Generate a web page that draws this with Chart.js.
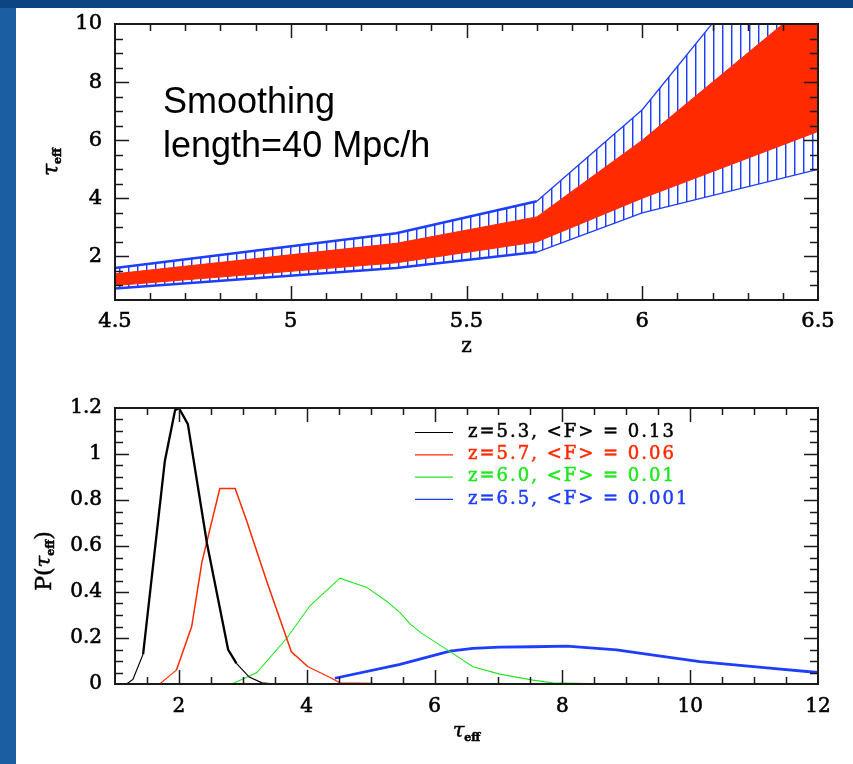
<!DOCTYPE html>
<html>
<head>
<meta charset="utf-8">
<script src="https://cdn.jsdelivr.net/npm/chart.js@4.4.1/dist/chart.umd.min.js"></script>
<style>
  html, body { margin: 0; padding: 0; }
  body { width: 853px; height: 764px; overflow: hidden; position: relative; background: #1b5ea2; }
  #band { position: absolute; left: 0; top: 0; width: 853px; height: 8px; background: #0d4582; }
  #panel { position: absolute; left: 16px; top: 8px; width: 837px; height: 756px; background: #fff; }
  .box { position: absolute; left: 16px; width: 837px; }
  #box-tau { top: 8px; height: 352px; }
  #box-pdf { top: 360px; height: 404px; }
</style>
</head>
<body>
<div id="band"></div>
<div id="panel"></div>
<div class="box" id="box-tau"><canvas id="chart-tau"></canvas></div>
<div class="box" id="box-pdf"><canvas id="chart-pdf"></canvas></div>
<script>
/* Two stacked panels: tau_eff range vs z (top), P(tau_eff) per redshift (bottom).
 * Values. */

// ---------- top panel data ----------
const Z_NODES  = [4.5, 5.3, 5.7, 6.0, 6.5];
const HATCH_LO = [0.9, 1.6, 2.15, 3.5, 5.0];
const HATCH_HI = [1.6, 2.8, 3.9, 7.05, 14.5];
const RED_LO   = [1.0, 1.78, 2.5, 4.0, 6.3];
const RED_HI   = [1.4, 2.45, 3.36, 6.0, 11.0];
const Z_TICKS   = [4.5, 5, 5.5, 6, 6.5];
const TAU_TICKS = [2, 4, 6, 8, 10];

// ---------- bottom panel data ----------
const Z53_TAU = [1.18, 1.28, 1.44, 1.78, 1.94, 2.0, 2.14, 2.44, 2.77, 2.9, 3.1, 3.3, 3.5];
const Z53_P   = [0, 0.02, 0.13, 0.97, 1.19, 1.2, 1.13, 0.61, 0.15, 0.09, 0.03, 0.005, 0];
const Z57_TAU = [1.7, 1.96, 2.2, 2.36, 2.64, 2.88, 3.06, 3.37, 3.76, 4.02, 4.39, 4.52, 5.04];
const Z57_P   = [0, 0.06, 0.25, 0.53, 0.85, 0.85, 0.71, 0.45, 0.14, 0.075, 0.025, 0.005, 0.003];
const Z60_TAU = [2.83, 3.22, 3.69, 4.05, 4.52, 4.94, 5.25, 5.46, 5.62, 5.8, 6.08, 6.6, 7.02, 7.54, 7.85, 8.8];
const Z60_P   = [0, 0.05, 0.2, 0.34, 0.46, 0.42, 0.36, 0.31, 0.26, 0.22, 0.17, 0.075, 0.043, 0.017, 0.005, 0];
const Z65_TAU = [4.44, 5.46, 6.24, 6.6, 7.02, 7.54, 8.07, 8.85, 9.37, 10.15, 11.2, 12];
const Z65_P   = [0.025, 0.085, 0.143, 0.155, 0.16, 0.162, 0.165, 0.148, 0.128, 0.097, 0.07, 0.05];
const LEGEND_LABELS = ["z=5.3, <F> = 0.13", "z=5.7, <F> = 0.06", "z=6.0, <F> = 0.01", "z=6.5, <F> = 0.001"];
const PDF_X_TICKS = [2, 4, 6, 8, 10, 12];
const PDF_Y_TICKS = [0, 0.2, 0.4, 0.6, 0.8, 1, 1.2];

const RED = "#ff2a00";
const BLUE = "#1d3dff";
const GREEN = "#22e622";
const BLACK = "#000";
const SERIF = "'DejaVu Serif', serif";

Chart.defaults.animation = false;
Chart.defaults.color = "#000";

const pts = (xs, ys) => xs.map((x, i) => ({ x, y: ys[i] }));

// vertical-line hatching for the outer band
function makeHatch() {
  const c = document.createElement("canvas");
  c.width = 9; c.height = 8;
  const g = c.getContext("2d");
  g.fillStyle = BLUE;
  g.fillRect(4, 0, 1, 8);
  g.globalAlpha = 0.45;
  g.fillRect(5, 0, 1, 8);
  return g.createPattern(c, "repeat");
}

// inward ticks on all four sides plus the box frame
const frameTicks = {
  id: "frameTicks",
  afterDatasetsDraw(chart, _a, o) {
    const { ctx, chartArea: a } = chart;
    const sx = chart.scales.x, sy = chart.scales.y;
    const isMajor = (v, step) => Math.abs(v / step - Math.round(v / step)) < 1e-6;
    ctx.save();
    ctx.strokeStyle = "#1a1a1a";
    ctx.lineWidth = 1.5;
    ctx.beginPath();
    const nx = Math.round((sx.max - sx.min) / o.xMinor);
    for (let i = 1; i < nx; i++) {
      const v = sx.min + i * o.xMinor;
      const px = Math.round(sx.getPixelForValue(v)) + 0.5;
      const len = isMajor(v, o.xMajor) ? 14 : 7;
      ctx.moveTo(px, a.bottom); ctx.lineTo(px, a.bottom - len);
      ctx.moveTo(px, a.top); ctx.lineTo(px, a.top + len);
    }
    const ny = Math.round((sy.max - sy.min) / o.yMinor);
    for (let i = 1; i < ny; i++) {
      const v = sy.min + i * o.yMinor;
      const py = Math.round(sy.getPixelForValue(v)) + 0.5;
      const len = isMajor(v, o.yMajor) ? 14 : 8;
      ctx.moveTo(a.left, py); ctx.lineTo(a.left + len, py);
      ctx.moveTo(a.right, py); ctx.lineTo(a.right - len, py);
    }
    ctx.stroke();
    ctx.lineWidth = 2;
    ctx.strokeRect(a.left, a.top, a.right - a.left, a.bottom - a.top);
    ctx.restore();
  },
};

// axis titles with subscripts, notes, inset legend
function drawParts(ctx, parts, cx, cy, rot) {
  let w = 0;
  parts.forEach(p => { ctx.font = p.font; w += ctx.measureText(p.t).width; });
  ctx.save();
  ctx.translate(cx, cy);
  if (rot) ctx.rotate(rot);
  ctx.textBaseline = "middle";
  ctx.textAlign = "left";
  ctx.fillStyle = "#000";
  ctx.strokeStyle = "#000";
  ctx.lineWidth = 0.5;
  let x = -w / 2;
  parts.forEach(p => {
    ctx.font = p.font;
    ctx.fillText(p.t, x, p.dy || 0);
    ctx.strokeText(p.t, x, p.dy || 0);
    x += ctx.measureText(p.t).width;
  });
  ctx.restore();
}

const decorations = {
  id: "decorations",
  afterDraw(chart, _a, o) {
    const { ctx, chartArea: a } = chart;
    const cx = (a.left + a.right) / 2, cy = (a.top + a.bottom) / 2;
    (o.titles || []).forEach(t => {
      drawParts(ctx, t.parts, t.side === "x" ? cx : a.left + t.dx, t.side === "x" ? a.bottom + t.dy : cy + t.dy, t.side === "x" ? 0 : -Math.PI / 2);
    });
    (o.notes || []).forEach(n => {
      ctx.save();
      ctx.font = n.font;
      ctx.fillStyle = "#000";
      ctx.textBaseline = "alphabetic";
      ctx.fillText(n.text, a.left + n.dx, a.top + n.dy);
      ctx.restore();
    });
    if (o.legend) {
      const L = o.legend;
      ctx.save();
      ctx.font = L.font;
      ctx.letterSpacing = L.letterSpacing;
      ctx.textBaseline = "middle";
      L.labels.forEach((lab, i) => {
        const y = a.top + L.dy + i * L.row;
        ctx.strokeStyle = L.colors[i];
        ctx.lineWidth = 1.2;
        ctx.beginPath();
        ctx.moveTo(a.left + L.dx, y + 0.5);
        ctx.lineTo(a.left + L.dx + L.lineLen, y + 0.5);
        ctx.stroke();
        const tx = a.left + L.dx + L.lineLen + L.gap;
        ctx.fillStyle = L.colors[i];
        ctx.fillText(lab, tx, y);
        ctx.lineWidth = 0.5;
        ctx.strokeText(lab, tx, y);
      });
      ctx.restore();
    }
  },
};

const fixedAxis = (ticksArr, size, isX) => ({
  type: "linear",
  grid: { display: false, drawTicks: false },
  border: { display: false },
  afterBuildTicks: s => { s.ticks = ticksArr.map(value => ({ value })); },
  afterFit: s => {
    if (isX) { s.height = size; s.paddingLeft = 0; s.paddingRight = 0; }
    else { s.width = size; s.paddingTop = 0; s.paddingBottom = 0; }
  },
});

const tickStyle = (size, pad) => ({
  padding: pad, maxRotation: 0, autoSkip: false, color: "#000",
  font: { family: SERIF, size },
  textStrokeColor: "#000", textStrokeWidth: 0.6,
  callback: v => String(v),
});

const tauTitle = (size, sub) => [
  { t: "\u03c4", font: `italic ${size}px ${SERIF}` },
  { t: "eff", font: `bold ${sub}px ${SERIF}`, dy: 6 },
];

// ---------- Figure 1: tau_eff band vs z ----------
const hatch = makeHatch();
new Chart(document.getElementById("chart-tau"), {
  type: "line",
  data: {
    datasets: [
      { data: pts(Z_NODES, RED_LO), borderColor: RED, borderWidth: 1, pointRadius: 0, fill: false },
      { data: pts(Z_NODES, RED_HI), borderColor: RED, backgroundColor: RED, borderWidth: 1, pointRadius: 0, fill: "-1" },
      {
        data: pts(Z_NODES, HATCH_LO), borderColor: BLUE, pointRadius: 0, fill: false,
        segment: { borderWidth: c => (c.p0.parsed.x < 5.7 ? 2.5 : 1.3) },
      },
      {
        data: pts(Z_NODES, HATCH_HI), borderColor: BLUE, backgroundColor: hatch, pointRadius: 0, fill: "-1",
        segment: { borderWidth: c => (c.p0.parsed.x < 5.7 ? 2.5 : 1.3) },
      },
    ],
  },
  options: {
    responsive: true,
    maintainAspectRatio: false,
    events: [],
    layout: { padding: { top: 16, right: 35, bottom: 0, left: 0 } },
    plugins: {
      legend: { display: false },
      tooltip: { enabled: false },
      frameTicks: { xMinor: 0.1, xMajor: 0.5, yMinor: 0.5, yMajor: 2 },
      decorations: {
        titles: [
          { side: "x", dy: 47, parts: [{ t: "z", font: `20px ${SERIF}` }] },
          { side: "y", dx: -63, dy: 0, parts: tauTitle(22, 11) },
        ],
        notes: [
          { text: "Smoothing", dx: 48, dy: 89, font: "36px 'Liberation Sans', Arial, sans-serif" },
          { text: "length=40 Mpc/h", dx: 48, dy: 133, font: "36px 'Liberation Sans', Arial, sans-serif" },
        ],
      },
    },
    scales: {
      x: { ...fixedAxis(Z_TICKS, 60, true), min: 4.5, max: 6.5, ticks: tickStyle(21, 9) },
      y: { ...fixedAxis(TAU_TICKS, 99, false), min: 0.5, max: 10, ticks: tickStyle(21, 13) },
    },
  },
  plugins: [frameTicks, decorations],
});

// ---------- Figure 2: P(tau_eff) ----------
const thinTails = (thick, thin) => c => (c.p0.parsed.y < 0.14 && c.p1.parsed.y < 0.14 ? thin : thick);
new Chart(document.getElementById("chart-pdf"), {
  type: "line",
  data: {
    datasets: [
      { data: pts(Z53_TAU, Z53_P), borderColor: BLACK, pointRadius: 0, segment: { borderWidth: thinTails(2.3, 1.2) } },
      { data: pts(Z57_TAU, Z57_P), borderColor: RED, pointRadius: 0, segment: { borderWidth: thinTails(1.5, 1.1) } },
      { data: pts(Z60_TAU, Z60_P), borderColor: GREEN, pointRadius: 0, borderWidth: 1.1 },
      { data: pts(Z65_TAU, Z65_P), borderColor: BLUE, pointRadius: 0, borderWidth: 2.8 },
    ],
  },
  options: {
    responsive: true,
    maintainAspectRatio: false,
    events: [],
    layout: { padding: { top: 48, right: 35, bottom: 0, left: 0 } },
    plugins: {
      legend: { display: false },
      tooltip: { enabled: false },
      frameTicks: { xMinor: 0.5, xMajor: 2, yMinor: 0.05, yMajor: 0.2 },
      decorations: {
        titles: [
          { side: "x", dy: 48, parts: tauTitle(21, 11) },
          { side: "y", dx: -70, dy: 15, parts: [
            { t: "P(", font: `22px ${SERIF}` },
            ...tauTitle(21, 11),
            { t: ")", font: `22px ${SERIF}` },
          ] },
        ],
        legend: {
          labels: LEGEND_LABELS, colors: [BLACK, RED, GREEN, BLUE],
          dx: 300, dy: 24, row: 22.3, lineLen: 38, gap: 15,
          font: `18px ${SERIF}`, letterSpacing: "2px",
        },
      },
    },
    scales: {
      x: { ...fixedAxis(PDF_X_TICKS, 80, true), min: 1, max: 12, ticks: tickStyle(20, 11) },
      y: { ...fixedAxis(PDF_Y_TICKS, 99, false), min: 0, max: 1.2, ticks: tickStyle(20, 13) },
    },
  },
  plugins: [frameTicks, decorations],
});
</script>
</body>
</html>
